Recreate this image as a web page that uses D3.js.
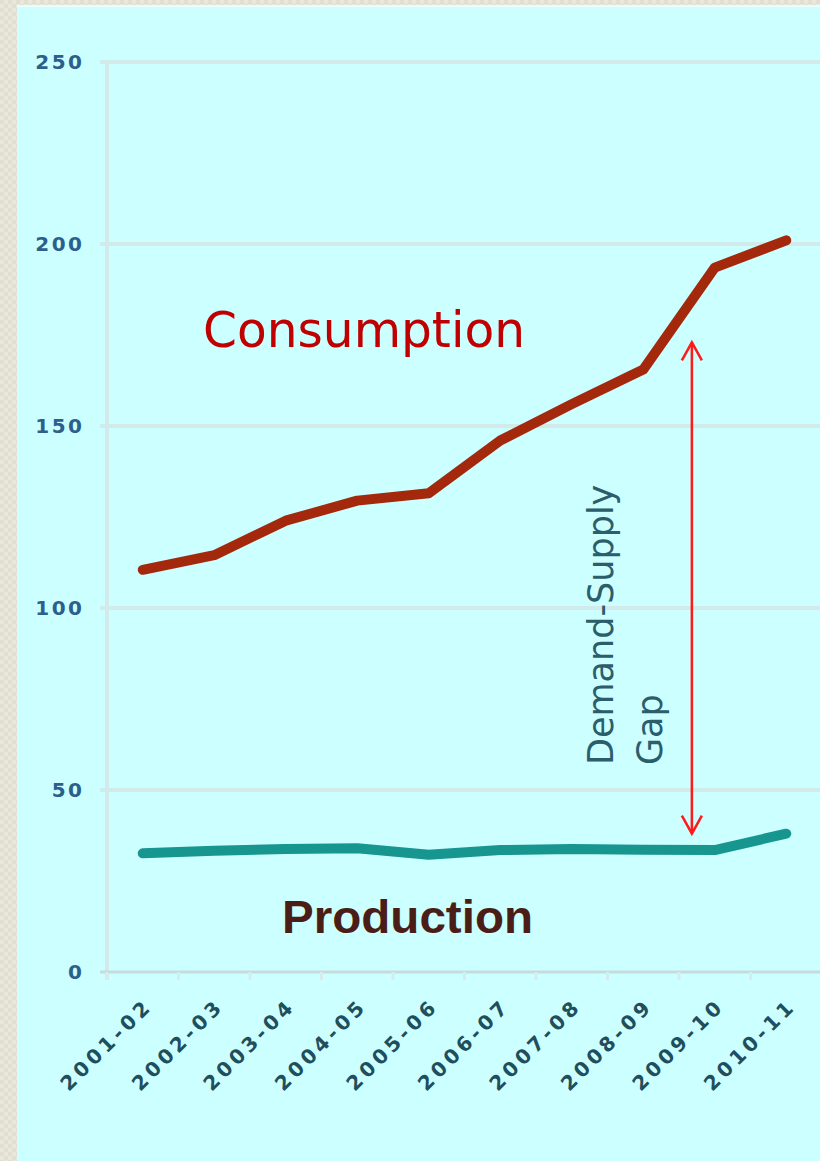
<!DOCTYPE html>
<html>
<head>
<meta charset="utf-8">
<script src="https://cdn.jsdelivr.net/npm/d3@7"></script>
<style>
  html, body { margin: 0; padding: 0; background: #e7e4d8; }
  svg { display: block; }
</style>
</head>
<body>
<script>
// ---- data ----
const categories = ["2001-02","2002-03","2003-04","2004-05","2005-06","2006-07","2007-08","2008-09","2009-10","2010-11"];
const consumption = [110.5, 114.5, 124, 129.5, 131.5, 146, 156, 165.5, 193.5, 201];
const production  = [32.6, 33.3, 33.8, 34, 32.2, 33.5, 33.8, 33.6, 33.5, 38];
const yTicks = [0, 50, 100, 150, 200, 250];
const gapRange = [38, 173];   // annotation arrow, in data units

// ---- layout ----
const W = 820, H = 1161;
const svg = d3.select("body").append("svg").attr("width", W).attr("height", H);

// outer patterned background
const defs = svg.append("defs");
const pat = defs.append("pattern").attr("id","bgpat").attr("width",8).attr("height",8).attr("patternUnits","userSpaceOnUse");
pat.append("rect").attr("width",8).attr("height",8).attr("fill","#e9e6da");
pat.append("rect").attr("width",4).attr("height",4).attr("fill","#e2dfd2");
pat.append("rect").attr("x",4).attr("y",4).attr("width",4).attr("height",4).attr("fill","#e2dfd2");
svg.append("rect").attr("width",W).attr("height",H).attr("fill","url(#bgpat)");
svg.append("rect").attr("x",17).attr("y",5).attr("width",W-17).attr("height",H-5).attr("fill","#ccffff");
svg.append("rect").attr("x",17).attr("y",5).attr("width",W-17).attr("height",2).attr("fill","#e4ffff");

const x = d3.scalePoint().domain(categories).range([107, 822]).padding(0.5);
const y = d3.scaleLinear().domain([0, 250]).range([972, 62]);
const step = x.step();

// gridlines
const grid = svg.append("g");
grid.selectAll("line.g").data(yTicks.filter(d => d > 0)).join("line")
  .attr("x1", 100).attr("x2", W)
  .attr("y1", d => y(d)).attr("y2", d => y(d))
  .attr("stroke", "#d3eaea").attr("stroke-width", 4);

// y axis line
svg.append("line").attr("x1",107).attr("x2",107).attr("y1",y(250)-2).attr("y2",y(0)+8)
  .attr("stroke","#d3eaea").attr("stroke-width",4);
// x axis line
svg.append("line").attr("x1",100).attr("x2",W).attr("y1",y(0)).attr("y2",y(0))
  .attr("stroke","#c6dcdc").attr("stroke-width",3);
// x ticks at band boundaries
const bounds = d3.range(categories.length + 1).map(i => 107 + i * step);
svg.append("g").selectAll("line").data(bounds).join("line")
  .attr("x1", d => d).attr("x2", d => d).attr("y1", y(0)).attr("y2", y(0) + 8)
  .attr("stroke", "#d6ecec").attr("stroke-width", 3);

// y tick labels
const yls = 2.5;
svg.append("g").selectAll("text").data(yTicks).join("text")
  .attr("x", 82 + yls).attr("y", d => y(d))
  .attr("dy", "0.36em")
  .attr("text-anchor", "end")
  .style("font-family", "'DejaVu Sans', Verdana, sans-serif")
  .style("font-weight", "bold").style("font-size", "20px")
  .style("letter-spacing", yls + "px")
  .attr("fill", "#2c5f8c")
  .text(d => d);

// x tick labels
const xls = 4;
svg.append("g").selectAll("text").data(categories).join("text")
  .attr("transform", d => `translate(${x(d) + 8},${1010}) rotate(-45)`)
  .attr("dx", xls)
  .attr("text-anchor", "end")
  .style("font-family", "'DejaVu Sans', Verdana, sans-serif")
  .style("font-weight", "bold").style("font-size", "20px")
  .style("letter-spacing", xls + "px")
  .attr("fill", "#1f4e5c")
  .text(d => d);

// lines
const line = d3.line().x((d, i) => x(categories[i])).y(d => y(d));
svg.append("path").datum(production).attr("d", line)
  .attr("fill", "none").attr("stroke", "#17958f").attr("stroke-width", 10)
  .attr("stroke-linejoin", "round").attr("stroke-linecap", "round");
svg.append("path").datum(consumption).attr("d", line)
  .attr("fill", "none").attr("stroke", "#a3280c").attr("stroke-width", 10)
  .attr("stroke-linejoin", "round").attr("stroke-linecap", "round");

// gap arrow
const ax = x("2009-10") - 0.32 * step;
const yTop = y(gapRange[1]), yBot = y(gapRange[0]);
const arrow = svg.append("g").attr("stroke", "#ff1a1a").attr("stroke-width", 2.5).attr("fill", "none");
arrow.append("line").attr("x1", ax).attr("x2", ax).attr("y1", yTop).attr("y2", yBot);
arrow.append("path").attr("d", `M${ax-10},${yTop+18} L${ax},${yTop} L${ax+10},${yTop+18}`);
arrow.append("path").attr("d", `M${ax-10},${yBot-18} L${ax},${yBot} L${ax+10},${yBot-18}`);

// annotations
svg.append("text").attr("x", 203).attr("y", 347)
  .attr("textLength", 322).attr("lengthAdjust", "spacingAndGlyphs")
  .style("font-family", "'DejaVu Sans', Verdana, sans-serif").style("font-size", "50px")
  .attr("fill", "#c00000").text("Consumption");

svg.append("text").attr("x", 282).attr("y", 933)
  .attr("textLength", 251).attr("lengthAdjust", "spacingAndGlyphs")
  .style("font-family", "'Liberation Sans', Arial, sans-serif").style("font-weight", "bold").style("font-size", "46px")
  .attr("fill", "#4a1e16").text("Production");

const gapText = svg.append("g")
  .style("font-family", "'DejaVu Sans', Verdana, sans-serif").style("font-size", "35px")
  .attr("fill", "#2b5d6b");
gapText.append("text").attr("transform", "translate(613,765) rotate(-90)").text("Demand-Supply");
gapText.append("text").attr("transform", "translate(662,765) rotate(-90)").text("Gap");
</script>
</body>
</html>
